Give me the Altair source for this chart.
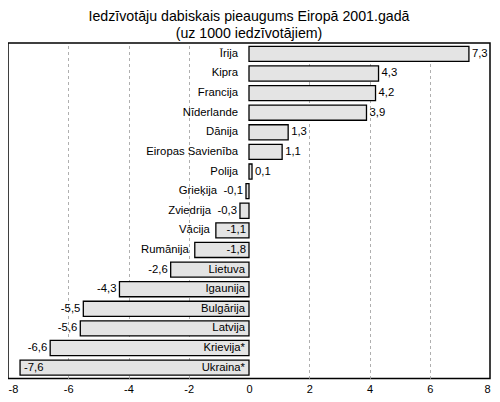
import altair as alt
import pandas as pd

categories = ["Īrija", "Kipra", "Francija", "Nīderlande", "Dānija", "Eiropas Savienība",
              "Polija", "Grieķija", "Zviedrija", "Vācija", "Rumānija", "Lietuva",
              "Igaunija", "Bulgārija", "Latvija", "Krievija*", "Ukraina*"]
values = [7.3, 4.3, 4.2, 3.9, 1.3, 1.1, 0.1, -0.1, -0.3, -1.1, -1.8, -2.6,
          -4.3, -5.5, -5.6, -6.6, -7.6]
tick_values = [-8, -6, -4, -2, 0, 2, 4, 6, 8]


def group(v):
    if v >= 0:
        return "pos"
    if v > -0.5:
        return "small"
    if v > -2:
        return "mid"
    if v > -7:
        return "large"
    return "xl"


df = pd.DataFrame({
    "cat": categories,
    "value": values,
    "label": [f"{v:.1f}".replace(".", ",") for v in values],
    "grp": [group(v) for v in values],
})

FONT = "Liberation Sans"
xscale = alt.Scale(domain=[-8, 8], nice=False, zero=False)
xaxis = alt.Axis(
    values=tick_values, grid=True, gridDash=[3, 3], gridColor="#9a9a9a", gridWidth=0.8,
    gridOpacity={"condition": {"test": "datum.value == 0 || abs(datum.value) == 8", "value": 0}, "value": 1},
    ticks=False, domain=False, labelFlush=True, labelFontSize=11, labelColor="black",
    labelFont=FONT, labelPadding=5, title=None,
    labelExpr="datum.value < 0 ? '-' + abs(datum.value) : '' + datum.value")
xenc = alt.X("value:Q", scale=xscale, axis=xaxis)
yenc = alt.Y("cat:N", sort=categories, axis=None,
             scale=alt.Scale(paddingInner=0.23, paddingOuter=0.17))

base = alt.Chart(df)

bars = base.mark_bar(
    fill="#e4e4e4", stroke="black", strokeWidth=1.3
).encode(y=yenc, x=xenc, x2=alt.datum(0))


def txt(grp_list, field, at_zero, align, dx):
    xe = alt.datum(0) if at_zero else xenc
    cond = " || ".join([f"datum.grp == '{g}'" for g in grp_list])
    return base.transform_filter(cond).mark_text(
        align=align, baseline="middle", dx=dx, fontSize=11.3, font=FONT, color="black"
    ).encode(y=yenc, x=xe, text=f"{field}:N")


layers = [
    bars,
    # value labels
    txt(["pos"], "label", False, "left", 3),
    txt(["small", "large"], "label", False, "right", -3),
    txt(["mid"], "label", True, "right", -3),
    txt(["xl"], "label", False, "left", 4),
    # category labels
    txt(["pos"], "cat", True, "right", -11),
    txt(["small"], "cat", False, "right", -29),
    txt(["mid"], "cat", False, "right", -6),
    txt(["large", "xl"], "cat", True, "right", -4),
]

chart = alt.layer(*layers).properties(
    width=482, height=335.5,
    title=alt.TitleParams(
        ["Iedzīvotāju dabiskais pieaugums Eiropā 2001.gadā", "(uz 1000 iedzīvotājiem)"],
        fontSize=14.2, font=FONT, fontWeight="normal", lineHeight=17, offset=2,
        anchor="middle", color="black"),
    autosize=alt.AutoSizeParams(type="none"),
    padding={"left": 0, "top": 35, "right": 2, "bottom": 15},
).configure(font=FONT).configure_view(stroke="black", strokeWidth=1.5)

chart.save("out.html", embed_options={"renderer": "svg", "actions": False})
